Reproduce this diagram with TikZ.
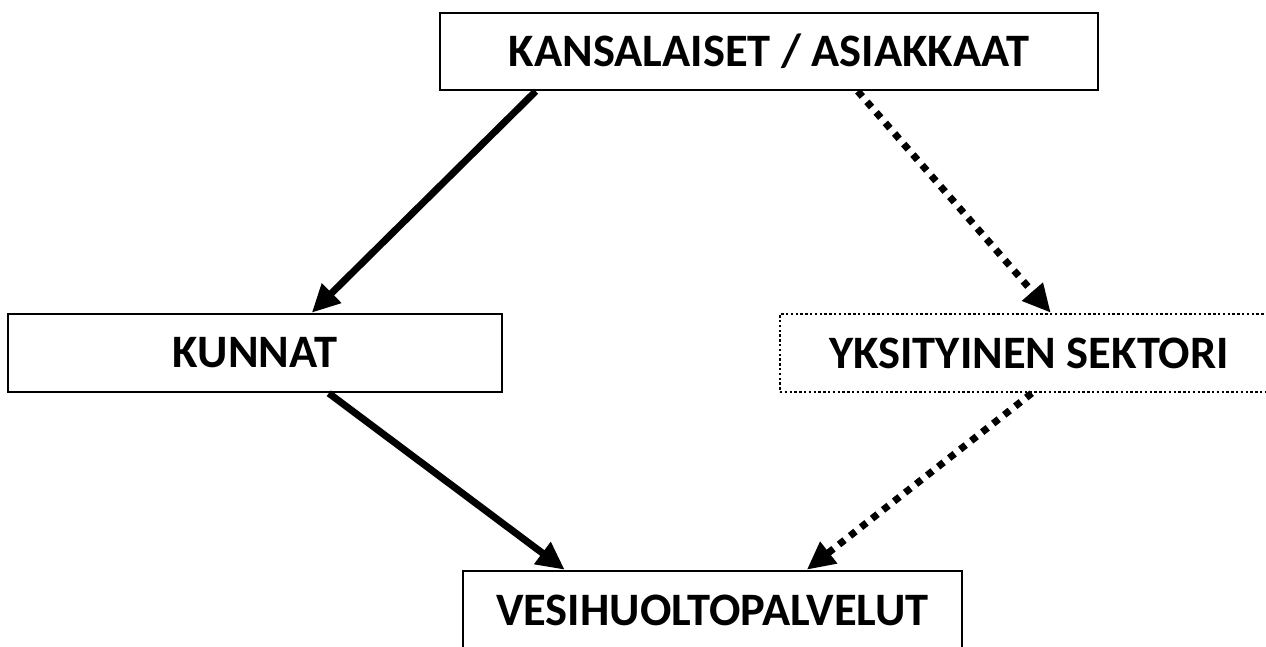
\documentclass[tikz,border=0pt]{standalone}
\usepackage{fontspec}
\setmainfont{Carlito}
\usetikzlibrary{arrows.meta}
\begin{document}
\begin{tikzpicture}[x=1pt,y=-1pt,
  box/.style={draw=black,line width=2.5pt,inner sep=0pt,font=\fontsize{46.5}{52}\selectfont\bfseries,text=black},
  dotbox/.style={box,dash pattern=on 2.4pt off 2.4pt},
  solidarrow/.style={line width=7pt,-{Triangle[length=28pt,width=26pt]}},
  dotarrow/.style={line width=7pt,dash pattern=on 7pt off 7pt,-{Triangle[length=28pt,width=26pt]}}]
\useasboundingbox (0,0) rectangle (1266,646);
\fill[white] (0,0) rectangle (1266,646);
\node[box,minimum width=658pt,minimum height=77pt] (top) at (769,51.5) {KANSALAISET / ASIAKKAAT};
\node[box,minimum width=494pt,minimum height=78pt] (kunnat) at (255,353) {KUNNAT};
\node[dotbox,minimum width=498pt,minimum height=78pt] (yks) at (1029,353) {YKSITYINEN SEKTORI};
\node[box,minimum width=499pt,minimum height=78pt] (vesi) at (712.5,610) {VESIHUOLTOPALVELUT};
\draw[solidarrow] ([xshift=97pt]top.south west) -- ([xshift=305pt]kunnat.north west);
\draw[dotarrow] ([xshift=419pt]top.south west) -- ([xshift=272pt]yks.north west);
\draw[solidarrow] ([xshift=322pt]kunnat.south west) -- ([xshift=103pt]vesi.north west);
\draw[dotarrow] ([xshift=253pt]yks.south west) -- ([xshift=345pt]vesi.north west);
\end{tikzpicture}
\end{document}
